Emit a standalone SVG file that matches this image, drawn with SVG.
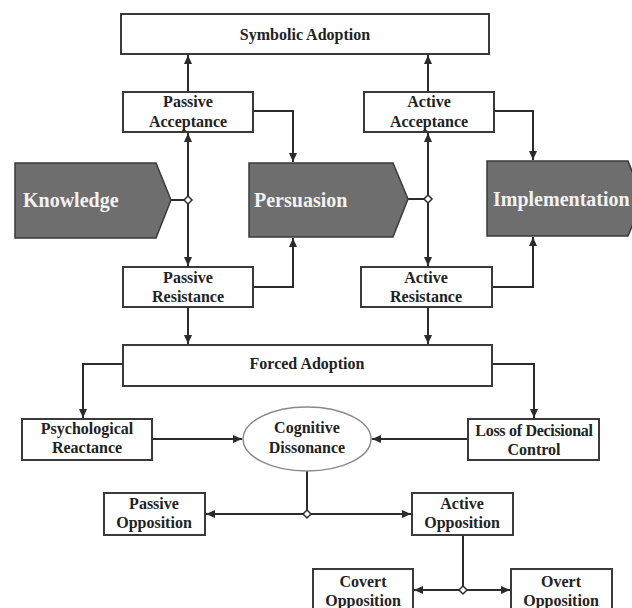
<svg xmlns="http://www.w3.org/2000/svg" width="632" height="608" viewBox="0 0 632 608">
<defs>
<marker id="arr" markerWidth="10" markerHeight="10" refX="9" refY="5" orient="auto" markerUnits="userSpaceOnUse">
<path d="M0,1 L9,5 L0,9 Z" fill="#2b2b2b"/>
</marker>
<style>
.box{fill:#fff;stroke:#3a3a3a;stroke-width:2}
.chev{fill:#6e6e6e;stroke:#3a3a3a;stroke-width:1.5}
.ln{fill:none;stroke:#2b2b2b;stroke-width:2}
.ar{fill:none;stroke:#2b2b2b;stroke-width:2;marker-end:url(#arr)}
.dia{fill:#fff;stroke:#2b2b2b;stroke-width:1.5}
.t{font-family:"Liberation Serif","Times New Roman",serif;font-weight:bold;font-size:16px;fill:#222;text-anchor:middle}
.big{font-family:"Liberation Serif","Times New Roman",serif;font-weight:bold;font-size:20px;fill:#f2f2f2}
</style>
</defs>
<rect width="632" height="608" fill="#fff"/>

<g id="connectors">
<path class="ar" d="M188,92 L188,55"/>
<path class="ar" d="M428,92 L428,55"/>
<path class="ln" d="M171,200 L188,200"/>
<path class="ar" d="M188,196 L188,133"/>
<path class="ar" d="M188,204 L188,266"/>
<path class="ln" d="M408,199 L428,199"/>
<path class="ar" d="M428,195 L428,133"/>
<path class="ar" d="M428,203 L428,266"/>
<path class="ar" d="M253,111 L293,111 L293,162"/>
<path class="ar" d="M253,287 L293,287 L293,238"/>
<path class="ar" d="M494,111 L533,111 L533,160"/>
<path class="ar" d="M492,287 L533,287 L533,237"/>
<path class="ar" d="M188,307 L188,344"/>
<path class="ar" d="M428,307 L428,344"/>
<path class="ar" d="M123,364 L83,364 L83,418"/>
<path class="ar" d="M492,364 L534,364 L534,418"/>
<path class="ar" d="M152,439 L242,439"/>
<path class="ar" d="M468,439 L372,439"/>
<path class="ln" d="M307,471 L307,510"/>
<path class="ar" d="M303,514 L206,514"/>
<path class="ar" d="M311,514 L411,514"/>
<path class="ln" d="M463,535 L463,586"/>
<path class="ar" d="M459,590 L414,590"/>
<path class="ar" d="M467,590 L510,590"/>
<path class="dia" d="M188,196 L192,200 L188,204 L184,200 Z"/>
<path class="dia" d="M428,195 L432,199 L428,203 L424,199 Z"/>
<path class="dia" d="M307,510 L311,514 L307,518 L303,514 Z"/>
<path class="dia" d="M463,586 L467,590 L463,594 L459,590 Z"/>
</g>

<g id="symbolic-adoption">
<rect class="box" x="121" y="14" width="368" height="40"/>
<text class="t" x="305" y="40">Symbolic Adoption</text>
</g>
<g id="passive-acceptance">
<rect class="box" x="123" y="92" width="130" height="40"/>
<text class="t" x="188" y="107">Passive</text>
<text class="t" x="188" y="127">Acceptance</text>
</g>
<g id="active-acceptance">
<rect class="box" x="364" y="92" width="130" height="40"/>
<text class="t" x="429" y="107">Active</text>
<text class="t" x="429" y="127">Acceptance</text>
</g>
<g id="knowledge">
<path class="chev" d="M15,163 L156,163 L171,200 L156,238 L15,238 Z"/>
<text class="big" x="23" y="207">Knowledge</text>
</g>
<g id="persuasion">
<path class="chev" d="M249,163 L393,163 L408,199 L393,237 L249,237 Z"/>
<text class="big" x="254" y="207">Persuasion</text>
</g>
<g id="implementation">
<path class="chev" d="M487,161 L628,161 L643,199 L628,236 L487,236 Z"/>
<text class="big" x="493" y="206">Implementation</text>
</g>
<g id="passive-resistance">
<rect class="box" x="123" y="267" width="130" height="40"/>
<text class="t" x="188" y="283">Passive</text>
<text class="t" x="188" y="302">Resistance</text>
</g>
<g id="active-resistance">
<rect class="box" x="361" y="267" width="131" height="40"/>
<text class="t" x="426" y="283">Active</text>
<text class="t" x="426" y="302">Resistance</text>
</g>
<g id="forced-adoption">
<rect class="box" x="123" y="345" width="369" height="41"/>
<text class="t" x="307" y="369">Forced Adoption</text>
</g>
<g id="psychological-reactance">
<rect class="box" x="22" y="419" width="130" height="41"/>
<text class="t" x="87" y="434">Psychological</text>
<text class="t" x="87" y="453">Reactance</text>
</g>
<g id="loss-of-decisional-control">
<rect class="box" x="468" y="419" width="131" height="41"/>
<text class="t" x="534" y="436" letter-spacing="-0.3">Loss of Decisional</text>
<text class="t" x="534" y="455">Control</text>
</g>
<g id="cognitive-dissonance">
<ellipse fill="#fff" stroke="#8a8a8a" stroke-width="1.5" cx="307" cy="439" rx="64" ry="32"/>
<text class="t" x="307" y="433">Cognitive</text>
<text class="t" x="307" y="453">Dissonance</text>
</g>
<g id="passive-opposition">
<rect class="box" x="104" y="493" width="101" height="42"/>
<text class="t" x="154" y="509">Passive</text>
<text class="t" x="154" y="528">Opposition</text>
</g>
<g id="active-opposition">
<rect class="box" x="412" y="493" width="101" height="42"/>
<text class="t" x="462" y="509">Active</text>
<text class="t" x="462" y="528">Opposition</text>
</g>
<g id="covert-opposition">
<rect class="box" x="313" y="569" width="100" height="42"/>
<text class="t" x="363" y="587">Covert</text>
<text class="t" x="363" y="606">Opposition</text>
</g>
<g id="overt-opposition">
<rect class="box" x="511" y="569" width="101" height="42"/>
<text class="t" x="561" y="587">Overt</text>
<text class="t" x="561" y="606">Opposition</text>
</g>
</svg>
